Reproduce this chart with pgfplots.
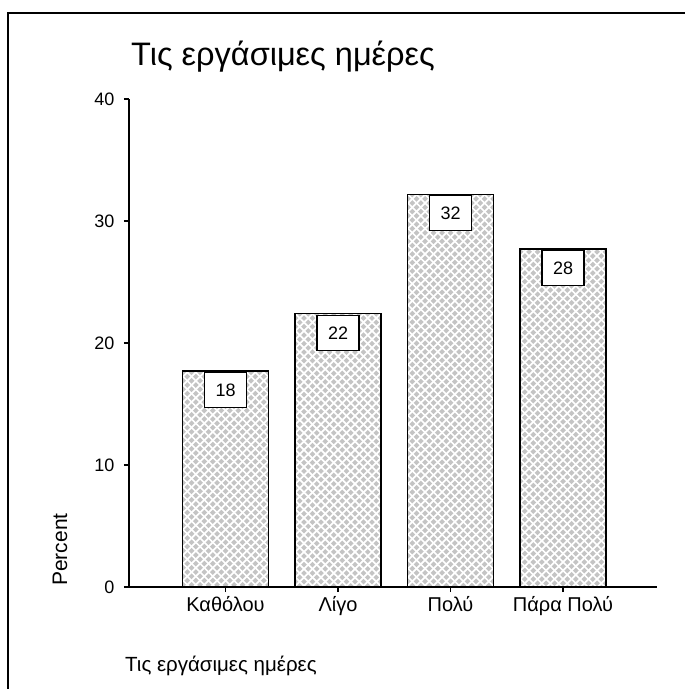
\documentclass[border=0pt]{standalone}
\usepackage{pgfplots}
\usepackage{pgfplotstable}
\pgfplotsset{compat=1.18}
\usepackage{fontspec}
\setmainfont{Liberation Sans}
\definecolor{hatchgray}{RGB}{196,196,196}
\newif\ifinhatch
\tikzset{diaghatch/.style={path picture={\ifinhatch\else\inhatchtrue
  \draw[white, line width=1.7pt, shift={(path picture bounding box.south west)}] \foreach \k in {-108,...,10} {(\k*8.5pt,-450pt) -- ++(900pt,900pt)};
  \draw[white, line width=1.7pt, shift={(path picture bounding box.south west)}] \foreach \k in {-2,...,116} {(\k*8.5pt,-450pt) -- ++(-900pt,900pt)};
\fi}}}
\pgfplotstableread{
x y lab
0 17.7 18
1 22.4 22
2 32.2 32
3 27.7 28
}\datatable
\begin{document}
\begin{tikzpicture}[x=1pt,y=1pt]
\useasboundingbox (0,0) rectangle (685,689);
\draw[line width=2pt] (8,0) -- (8,676) -- (685,676);
\node[anchor=base west, font=\fontsize{32.5}{36}\selectfont, inner sep=0pt] at (131,623) {Τις εργάσιμες ημέρες};
\node[anchor=base west, font=\fontsize{20.5}{24}\selectfont, inner sep=0pt] at (125,17) {Τις εργάσιμες ημέρες};
\node[anchor=base west, rotate=90, font=\fontsize{21}{24}\selectfont, inner sep=0pt] at (67,103) {Percent};
\begin{axis}[
  at={(129pt,102pt)}, anchor=south west,
  scale only axis, width=528pt, height=488pt,
  xmin=-0.858, xmax=3.835, ymin=0, ymax=40,
  axis x line=bottom, axis y line=left,
  axis line style={-, line width=1.2pt, black},
  ytick={0,10,20,30,40},
  xtick={0,1,2,3},
  xticklabels={Καθόλου, Λίγο, Πολύ, Πάρα Πολύ},
  tick align=outside, major tick length=5pt,
  tick style={black, line width=1.2pt},
  /pgf/number format/assume math mode=true,
  xticklabel style={font=\fontsize{20}{24}\selectfont, yshift=-1pt},
  yticklabel style={font=\fontsize{18}{20}\selectfont, xshift=-6pt},
  clip=false,
]
\addplot[ybar, bar width=86pt, draw=black, line width=1.2pt, fill=hatchgray,
  visualization depends on={rawy \as \rawy},
  nodes near coords={},
  every node near coord/.append style={anchor=north, inner sep=0pt, outer sep=0pt,
    minimum width=86pt, minimum height={\rawy*12.2pt}, draw=black, line width=1.2pt, diaghatch}]
table[x=x, y=y] {\datatable};
\addplot[draw=none, mark=none,
  nodes near coords, point meta=explicit symbolic,
  every node near coord/.append style={anchor=north, draw=black, fill=white, line width=1.2pt,
    minimum width=42pt, minimum height=35pt, inner sep=0pt, yshift=-1pt,
    font=\fontsize{18}{20}\selectfont, text=black}]
table[x=x, y=y, meta=lab] {\datatable};
\end{axis}
\end{tikzpicture}
\end{document}
